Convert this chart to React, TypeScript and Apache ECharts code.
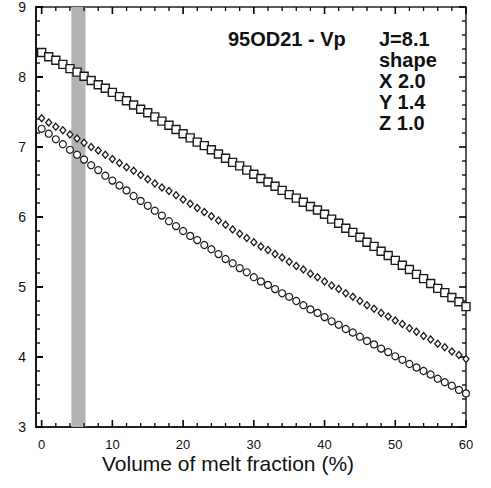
import React, { useEffect, useRef } from "react";
import * as echarts from "echarts";

const meltFraction: number[] = Array.from({ length: 61 }, (_, i) => i);

const squareVp: number[] = [
  8.35, 8.29, 8.24, 8.18, 8.12, 8.07, 8.01, 7.95, 7.89, 7.84, 7.78,
  7.72, 7.66, 7.6, 7.54, 7.49, 7.43, 7.37, 7.31, 7.25, 7.19,
  7.13, 7.07, 7.02, 6.96, 6.9, 6.84, 6.78, 6.73, 6.67, 6.61,
  6.55, 6.5, 6.44, 6.38, 6.32, 6.27, 6.21, 6.15, 6.1, 6.04,
  5.97, 5.91, 5.84, 5.78, 5.71, 5.64, 5.58, 5.51, 5.45, 5.38,
  5.31, 5.25, 5.18, 5.12, 5.05, 4.98, 4.92, 4.85, 4.79, 4.72,
];

const diamondVp: number[] = [
  7.41, 7.35, 7.29, 7.24, 7.18, 7.12, 7.06, 7.0, 6.95, 6.89, 6.83,
  6.77, 6.71, 6.66, 6.6, 6.54, 6.48, 6.42, 6.37, 6.31, 6.25,
  6.19, 6.13, 6.07, 6.01, 5.95, 5.89, 5.82, 5.76, 5.7, 5.64,
  5.58, 5.53, 5.47, 5.42, 5.36, 5.3, 5.25, 5.19, 5.14, 5.08,
  5.02, 4.97, 4.91, 4.86, 4.8, 4.74, 4.69, 4.63, 4.58, 4.52,
  4.47, 4.41, 4.36, 4.3, 4.25, 4.19, 4.14, 4.08, 4.03, 3.97,
];

const circleVp: number[] = [
  7.26, 7.19, 7.11, 7.04, 6.96, 6.89, 6.82, 6.74, 6.67, 6.59, 6.52,
  6.45, 6.38, 6.3, 6.23, 6.16, 6.09, 6.02, 5.94, 5.87, 5.8,
  5.73, 5.67, 5.6, 5.54, 5.47, 5.4, 5.34, 5.27, 5.21, 5.14,
  5.08, 5.03, 4.97, 4.91, 4.86, 4.8, 4.74, 4.68, 4.63, 4.57,
  4.51, 4.46, 4.4, 4.35, 4.29, 4.23, 4.18, 4.12, 4.07, 4.01,
  3.96, 3.9, 3.85, 3.8, 3.75, 3.69, 3.64, 3.59, 3.53, 3.48,
];

const xMajorTicks: number[] = [0, 10, 20, 30, 40, 50, 60];
const xMinorTicks: number[] = [2, 4, 6, 8, 12, 14, 16, 18, 22, 24, 26, 28, 32, 34, 36, 38, 42, 44, 46, 48, 52, 54, 56, 58];
const yMajorTicks: number[] = [3, 4, 5, 6, 7, 8, 9];
const yMinorTicks: number[] = [
  3.2, 3.4, 3.6, 3.8, 4.2, 4.4, 4.6, 4.8, 5.2, 5.4, 5.6, 5.8,
  6.2, 6.4, 6.6, 6.8, 7.2, 7.4, 7.6, 7.8, 8.2, 8.4, 8.6, 8.8,
];
const shadedBand: [number, number] = [4.2, 6.2];
const annotationLines: string[] = ["J=8.1", "shape", "X 2.0", "Y 1.4", "Z 1.0"];
const sampleTitle = "95OD21 - Vp";
const xAxisTitle = "Volume of melt fraction (%)";

const FONT = "Liberation Sans, Arial, Helvetica, sans-serif";
const X_MIN = -0.8;
const X_MAX = 60;
const Y_MIN = 3;
const Y_MAX = 9;

export default function App() {
  const ref = useRef<HTMLDivElement>(null);
  useEffect(() => {
    if (!ref.current) return;
    const chart = echarts.init(ref.current, undefined, { renderer: "svg" });

    // tick descriptors: [side, value, length]; side 0=bottom 1=top 2=left 3=right
    const tickData: number[][] = [];
    xMajorTicks.forEach((v) => { tickData.push([0, v, 7]); tickData.push([1, v, 7]); });
    xMinorTicks.forEach((v) => { tickData.push([0, v, 4]); tickData.push([1, v, 4]); });
    yMajorTicks.forEach((v) => { tickData.push([2, v, 7]); tickData.push([3, v, 7]); });
    yMinorTicks.forEach((v) => { tickData.push([2, v, 4]); tickData.push([3, v, 4]); });

    const renderTick = (_params: any, api: any) => {
      const side = api.value(0);
      const v = api.value(1);
      const len = api.value(2);
      const w = len > 5 ? 1.6 : 1.3;
      let rect: { x: number; y: number; width: number; height: number };
      if (side === 0) {
        const p = api.coord([v, Y_MIN]);
        rect = { x: p[0] - w / 2, y: p[1] - len, width: w, height: len };
      } else if (side === 1) {
        const p = api.coord([v, Y_MAX]);
        rect = { x: p[0] - w / 2, y: p[1], width: w, height: len };
      } else if (side === 2) {
        const p = api.coord([X_MIN, v]);
        rect = { x: p[0], y: p[1] - w / 2, width: len, height: w };
      } else {
        const p = api.coord([X_MAX, v]);
        rect = { x: p[0] - len, y: p[1] - w / 2, width: len, height: w };
      }
      return {
        type: "rect",
        shape: rect,
        style: { fill: "#000" },
      };
    };

    const renderXLabel = (_params: any, api: any) => {
      const v = api.value(0);
      const p = api.coord([v, Y_MIN]);
      return {
        type: "text",
        x: p[0],
        y: p[1] + 17,
        style: {
          text: String(v),
          font: `13px ${FONT}`,
          fill: "#111",
          align: "center",
          verticalAlign: "middle",
        },
      };
    };

    const opt: any = {
      animation: false,
      grid: {
        left: 36,
        right: 25,
        top: 5,
        bottom: 61,
        show: true,
        borderColor: "#222",
        borderWidth: 1.5,
        backgroundColor: "transparent",
      },
      xAxis: {
        type: "value",
        min: X_MIN,
        max: X_MAX,
        axisLine: { show: true, onZero: false, lineStyle: { color: "#111", width: 1.5 } },
        axisTick: { show: false },
        axisLabel: { show: false },
        splitLine: { show: false },
      },
      yAxis: {
        type: "value",
        min: Y_MIN,
        max: Y_MAX,
        interval: 1,
        axisLine: { show: true, onZero: false, lineStyle: { color: "#111", width: 1.8 } },
        axisTick: { show: true, inside: true, length: 7, lineStyle: { color: "#000", width: 1.6 } },
        axisLabel: { show: true, fontFamily: FONT, fontSize: 14, color: "#111", margin: 10 },
        splitLine: { show: false },
      },
      series: [
        {
          type: "scatter",
          name: "squares",
          data: meltFraction.map((x, i) => [x, squareVp[i]]),
          symbol: "rect",
          symbolSize: 8,
          itemStyle: { color: "#fff", borderColor: "#1a1a1a", borderWidth: 1.4, opacity: 1 },
          markArea: {
            silent: true,
            itemStyle: { color: "#b3b3b3" },
            data: [[{ xAxis: shadedBand[0] }, { xAxis: shadedBand[1] }]],
          },
        },
        {
          type: "scatter",
          name: "diamonds",
          data: meltFraction.map((x, i) => [x, diamondVp[i]]),
          symbol: "diamond",
          symbolSize: [6, 7],
          itemStyle: { color: "#fff", borderColor: "#1a1a1a", borderWidth: 1.3, opacity: 1 },
        },
        {
          type: "scatter",
          name: "circles",
          data: meltFraction.map((x, i) => [x, circleVp[i]]),
          symbol: "circle",
          symbolSize: 7,
          itemStyle: { color: "#fff", borderColor: "#1a1a1a", borderWidth: 1.2, opacity: 1 },
        },
        {
          type: "custom",
          name: "ticks",
          renderItem: renderTick,
          data: tickData,
          clip: false,
        },
        {
          type: "custom",
          name: "xLabels",
          renderItem: renderXLabel,
          data: xMajorTicks.map((v) => [v, Y_MIN]),
          clip: false,
        },
      ],
      graphic: [
        {
          type: "text",
          left: 228,
          top: 28,
          style: { text: sampleTitle, font: `bold 20px ${FONT}`, fill: "#111", lineHeight: 21 },
        },
        {
          type: "text",
          left: 379,
          top: 28,
          style: {
            text: annotationLines.join("\n"),
            font: `bold 20px ${FONT}`,
            fill: "#111",
            lineHeight: 21,
          },
        },
        {
          type: "text",
          x: 228,
          y: 463,
          style: {
            text: xAxisTitle,
            font: `21px ${FONT}`,
            fill: "#111",
            textAlign: "center",
            textVerticalAlign: "middle",
          },
        },
      ],
    };
    chart.setOption(opt);
    return () => chart.dispose();
  }, []);
  return (
    <div
      ref={ref}
      style={{ position: "fixed", left: 0, top: 0, width: 491, height: 488, background: "#fff" }}
    />
  );
}
